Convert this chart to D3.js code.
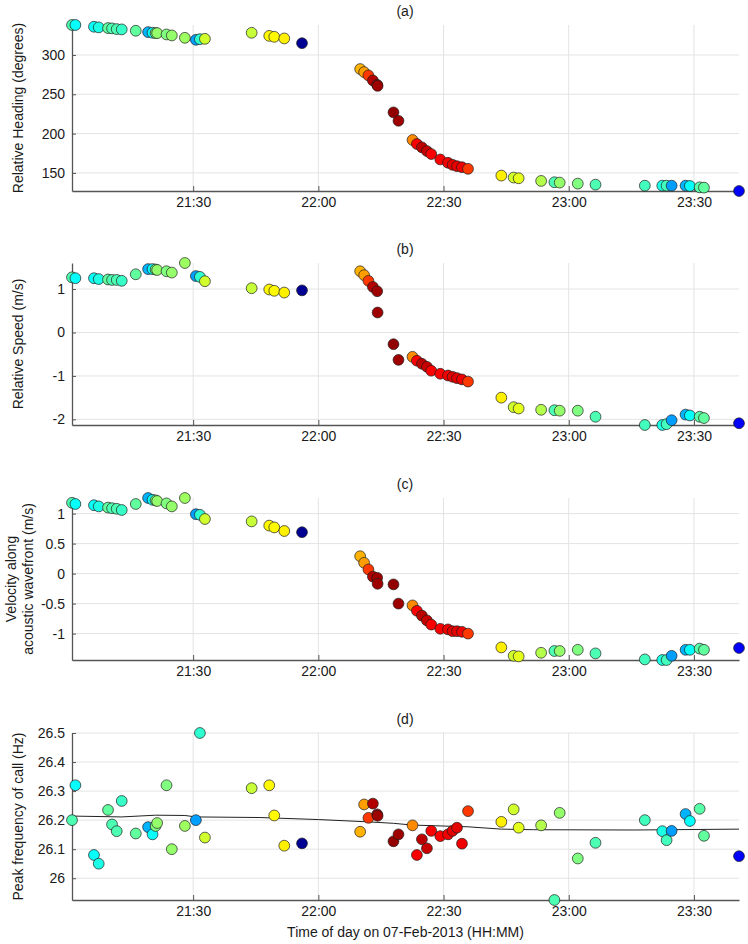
<!DOCTYPE html>
<html>
<head>
<meta charset="utf-8">
<script src="https://cdn.jsdelivr.net/npm/d3@7"></script>
<style>
  body { margin: 0; background: #fff; }
  svg text { font-family: "Liberation Sans", Arial, sans-serif; fill: #1a1a1a; }
</style>
</head>
<body>
<div id="chart"></div>
<script>
// call times (HH:MM:SS on 07-Feb-2013)
const times = [
  '21:00:58', '21:01:47', '21:06:14', '21:07:22', '21:09:36', '21:10:34', '21:11:41', '21:12:53',
  '21:16:15', '21:19:12', '21:20:16', '21:21:00', '21:21:22', '21:23:37', '21:24:53', '21:28:01',
  '21:30:39', '21:31:37', '21:32:49', '21:44:01', '21:48:14', '21:49:26', '21:51:50', '21:56:05',
  '22:10:01', '22:10:58', '22:12:00', '22:13:04', '22:14:06', '22:14:12', '22:18:00', '22:19:12',
  '22:22:34', '22:23:37', '22:24:49', '22:26:01', '22:27:03', '22:29:13', '22:31:04', '22:32:10',
  '22:33:13', '22:34:25', '22:35:52', '22:43:51', '22:46:48', '22:48:00', '22:53:23', '22:56:34',
  '22:57:50', '23:02:10', '23:06:25', '23:18:14', '23:22:25', '23:23:27', '23:24:39', '23:28:00',
  '23:29:02', '23:31:22', '23:32:24', '23:40:48',
];

const heading = [
  338.1, 338.1, 335.9, 335.1, 334.2, 333.8, 332.9, 332.5, 330.8, 329.1, 328.2, 327.8, 327.8, 326.1,
  324.8, 321.8, 319.3, 320.1, 320.5, 328.2, 324.3, 323.1, 321.0, 315.0, 282.1, 278.2, 274.0, 267.6,
  262.0, 260.7, 227.0, 216.3, 191.9, 186.8, 182.5, 177.8, 174.0, 167.1, 162.9, 160.3, 158.6, 157.3,
  155.2, 146.6, 144.1, 143.2, 139.8, 138.1, 137.7, 136.4, 135.1, 133.8, 133.8, 133.8, 133.8, 133.8,
  133.4, 131.7, 131.3, 127.0,
];

const speed = [
  1.27, 1.25, 1.25, 1.23, 1.22, 1.21, 1.21, 1.19, 1.34, 1.46, 1.46, 1.45, 1.44, 1.41, 1.38, 1.60,
  1.30, 1.28, 1.18, 1.02, 0.99, 0.96, 0.92, 0.97, 1.41, 1.32, 1.19, 1.05, 0.95, 0.46, -0.27, -0.63,
  -0.56, -0.65, -0.72, -0.79, -0.88, -0.95, -0.99, -1.02, -1.05, -1.08, -1.13, -1.50, -1.72, -1.75,
  -1.78, -1.79, -1.80, -1.80, -1.94, -2.13, -2.13, -2.11, -2.02, -1.89, -1.91, -1.94, -1.97, -2.09,
];

const velocity = [
  1.18, 1.16, 1.14, 1.12, 1.10, 1.09, 1.08, 1.06, 1.16, 1.26, 1.23, 1.22, 1.21, 1.17, 1.12, 1.26,
  0.99, 0.98, 0.91, 0.87, 0.80, 0.77, 0.71, 0.69, 0.29, 0.18, 0.07, -0.05, -0.07, -0.17, -0.18, -0.50,
  -0.53, -0.62, -0.70, -0.78, -0.85, -0.92, -0.93, -0.96, -0.96, -0.97, -1.00, -1.23, -1.37, -1.38,
  -1.32, -1.29, -1.29, -1.27, -1.33, -1.43, -1.44, -1.44, -1.37, -1.27, -1.27, -1.25, -1.27, -1.24,
];

const peakFreq = [
  26.200, 26.320, 26.080, 26.050, 26.235, 26.185, 26.162, 26.266, 26.154, 26.176, 26.151, 26.180,
  26.190, 26.320, 26.100, 26.180, 26.200, 26.500, 26.140, 26.310, 26.320, 26.216, 26.112, 26.120,
  26.160, 26.254, 26.208, 26.257, 26.220, 26.215, 26.127, 26.151, 26.182, 26.080, 26.134, 26.103,
  26.163, 26.145, 26.151, 26.163, 26.174, 26.119, 26.231, 26.194, 26.237, 26.174, 26.182, 25.925,
  26.225, 26.068, 26.122, 26.200, 26.162, 26.131, 26.163, 26.221, 26.197, 26.239, 26.146, 26.076,
];

// colour value of each call on the jet colormap (0 = dark blue, 1 = dark red)
const colorValue = [
  0.45, 0.38, 0.38, 0.40, 0.47, 0.45, 0.45, 0.43, 0.47, 0.30, 0.38, 0.50, 0.52, 0.50, 0.52, 0.53,
  0.28, 0.42, 0.58, 0.57, 0.63, 0.63, 0.64, 0.02, 0.70, 0.72, 0.82, 0.95, 0.97, 0.97, 0.98, 0.97,
  0.74, 0.88, 0.94, 0.93, 0.88, 0.88, 0.89, 0.90, 0.90, 0.89, 0.82, 0.64, 0.58, 0.60, 0.55, 0.45,
  0.52, 0.50, 0.45, 0.44, 0.40, 0.44, 0.28, 0.30, 0.38, 0.46, 0.47, 0.12,
];

// smoothed trend of peak frequency
const trendTimes = [
  '21:00:58', '21:12:53', '21:21:00', '21:28:01', '21:30:39', '21:46:00', '22:00:00', '22:12:00',
  '22:18:00', '22:22:34', '22:35:52', '22:43:51', '22:51:36', '23:15:36', '23:40:48',
];
const trendValues = [
  26.214, 26.211, 26.217, 26.216, 26.211, 26.209, 26.202, 26.194,
  26.189, 26.183, 26.177, 26.169, 26.167, 26.166, 26.169,
];

const timeTicks = ['21:30', '22:00', '22:30', '23:00', '23:30'];
const panelTitles = ['(a)', '(b)', '(c)', '(d)'];
const yLabels = [
  ['Relative Heading (degrees)'],
  ['Relative Speed (m/s)'],
  ['Velocity along', 'acoustic wavefront (m/s)'],
  ['Peak frequency of call (Hz)'],
];
const yTicks = [
  [150, 200, 250, 300],
  [-2, -1, 0, 1],
  [-1, -0.5, 0, 0.5, 1],
  [26, 26.1, 26.2, 26.3, 26.4, 26.5],
];

const width = 748,
  height = 944,
  left = 72,
  right = 739;
const panels = [
  { top: 25, bottom: 191, values: heading },
  { top: 263, bottom: 425, values: speed },
  { top: 498, bottom: 660, values: velocity },
  { top: 733, bottom: 900, values: peakFreq },
];

const parseTime = d3.timeParse('%H:%M:%S');
const parseTick = d3.timeParse('%H:%M');
const dates = times.map(parseTime);

const jet = d3
  .scaleLinear()
  .domain([0, 0.125, 0.375, 0.625, 0.875, 1])
  .range(['#00007f', '#0000ff', '#00ffff', '#ffff00', '#ff0000', '#7f0000'])
  .interpolate(d3.interpolateRgb);

const xScale = d3.scaleTime().domain(d3.extent(dates)).range([left, right]);

const svg = d3
  .select('#chart')
  .append('svg')
  .attr('width', width)
  .attr('height', height);

const tickFmt = (d) => String(Math.round(d * 10) / 10);

panels.forEach((p, k) => {
  const yScale = d3
    .scaleLinear()
    .domain(d3.extent(p.values))
    .range([p.bottom, p.top]);

  const g = svg.append('g');

  // grid
  g.selectAll('.hgrid')
    .data(yTicks[k])
    .enter()
    .append('line')
    .attr('x1', left)
    .attr('x2', right)
    .attr('y1', (d) => yScale(d))
    .attr('y2', (d) => yScale(d))
    .attr('stroke', '#e3e3e3')
    .attr('stroke-width', 1);

  g.selectAll('.vgrid')
    .data(timeTicks)
    .enter()
    .append('line')
    .attr('x1', (d) => xScale(parseTick(d)))
    .attr('x2', (d) => xScale(parseTick(d)))
    .attr('y1', p.top)
    .attr('y2', p.bottom)
    .attr('stroke', '#e3e3e3')
    .attr('stroke-width', 1);

  // axes
  const yAxis = d3
    .axisLeft(yScale)
    .tickValues(yTicks[k])
    .tickFormat(tickFmt)
    .tickSizeInner(-4)
    .tickSizeOuter(0)
    .tickPadding(7);

  const ya = g.append('g').attr('transform', `translate(${left},0)`).call(yAxis);
  ya.select('.domain').attr('stroke', '#555').attr('stroke-width', 1.3);
  ya.selectAll('line').attr('stroke', '#555');
  ya.selectAll('text').style('font-size', '14px').attr('fill', '#1a1a1a');

  const xAxis = d3
    .axisBottom(xScale)
    .tickValues(timeTicks.map(parseTick))
    .tickFormat(d3.timeFormat('%H:%M'))
    .tickSizeInner(-5)
    .tickSizeOuter(0)
    .tickPadding(6);

  const xa = g.append('g').attr('transform', `translate(0,${p.bottom})`).call(xAxis);
  xa.select('.domain').attr('stroke', '#555').attr('stroke-width', 1.3);
  xa.selectAll('line').attr('stroke', '#555');
  xa.selectAll('text').style('font-size', '14px').attr('fill', '#1a1a1a');

  // trend line on the frequency panel
  if (k === 3) {
    const line = d3
      .line()
      .x((d) => xScale(parseTime(d)))
      .y((d, i) => yScale(trendValues[i]));
    g.append('path')
      .datum(trendTimes)
      .attr('d', line)
      .attr('fill', 'none')
      .attr('stroke', '#222')
      .attr('stroke-width', 1);
  }

  // points
  g.selectAll('circle')
    .data(p.values)
    .enter()
    .append('circle')
    .attr('cx', (d, i) => xScale(dates[i]))
    .attr('cy', (d) => yScale(d))
    .attr('r', 5.4)
    .attr('fill', (d, i) => jet(colorValue[i]))
    .attr('stroke', '#1e1e1e')
    .attr('stroke-width', 0.7);

  // panel title
  g.append('text')
    .attr('x', 405)
    .attr('y', p.top - 9)
    .attr('text-anchor', 'middle')
    .style('font-size', '14px')
    .text(panelTitles[k]);

  // y label
  const cy = (p.top + p.bottom) / 2;
  const lines = yLabels[k];
  lines.forEach((t, j) => {
    const x = lines.length === 1 ? 23 : 16 + j * 17;
    g.append('text')
      .attr('transform', `translate(${x},${cy}) rotate(-90)`)
      .attr('text-anchor', 'middle')
      .style('font-size', '14px')
      .text(t);
  });
});

svg
  .append('text')
  .attr('x', (left + right) / 2)
  .attr('y', 937)
  .attr('text-anchor', 'middle')
  .style('font-size', '14px')
  .text('Time of day on 07-Feb-2013 (HH:MM)');
</script>
</body>
</html>
